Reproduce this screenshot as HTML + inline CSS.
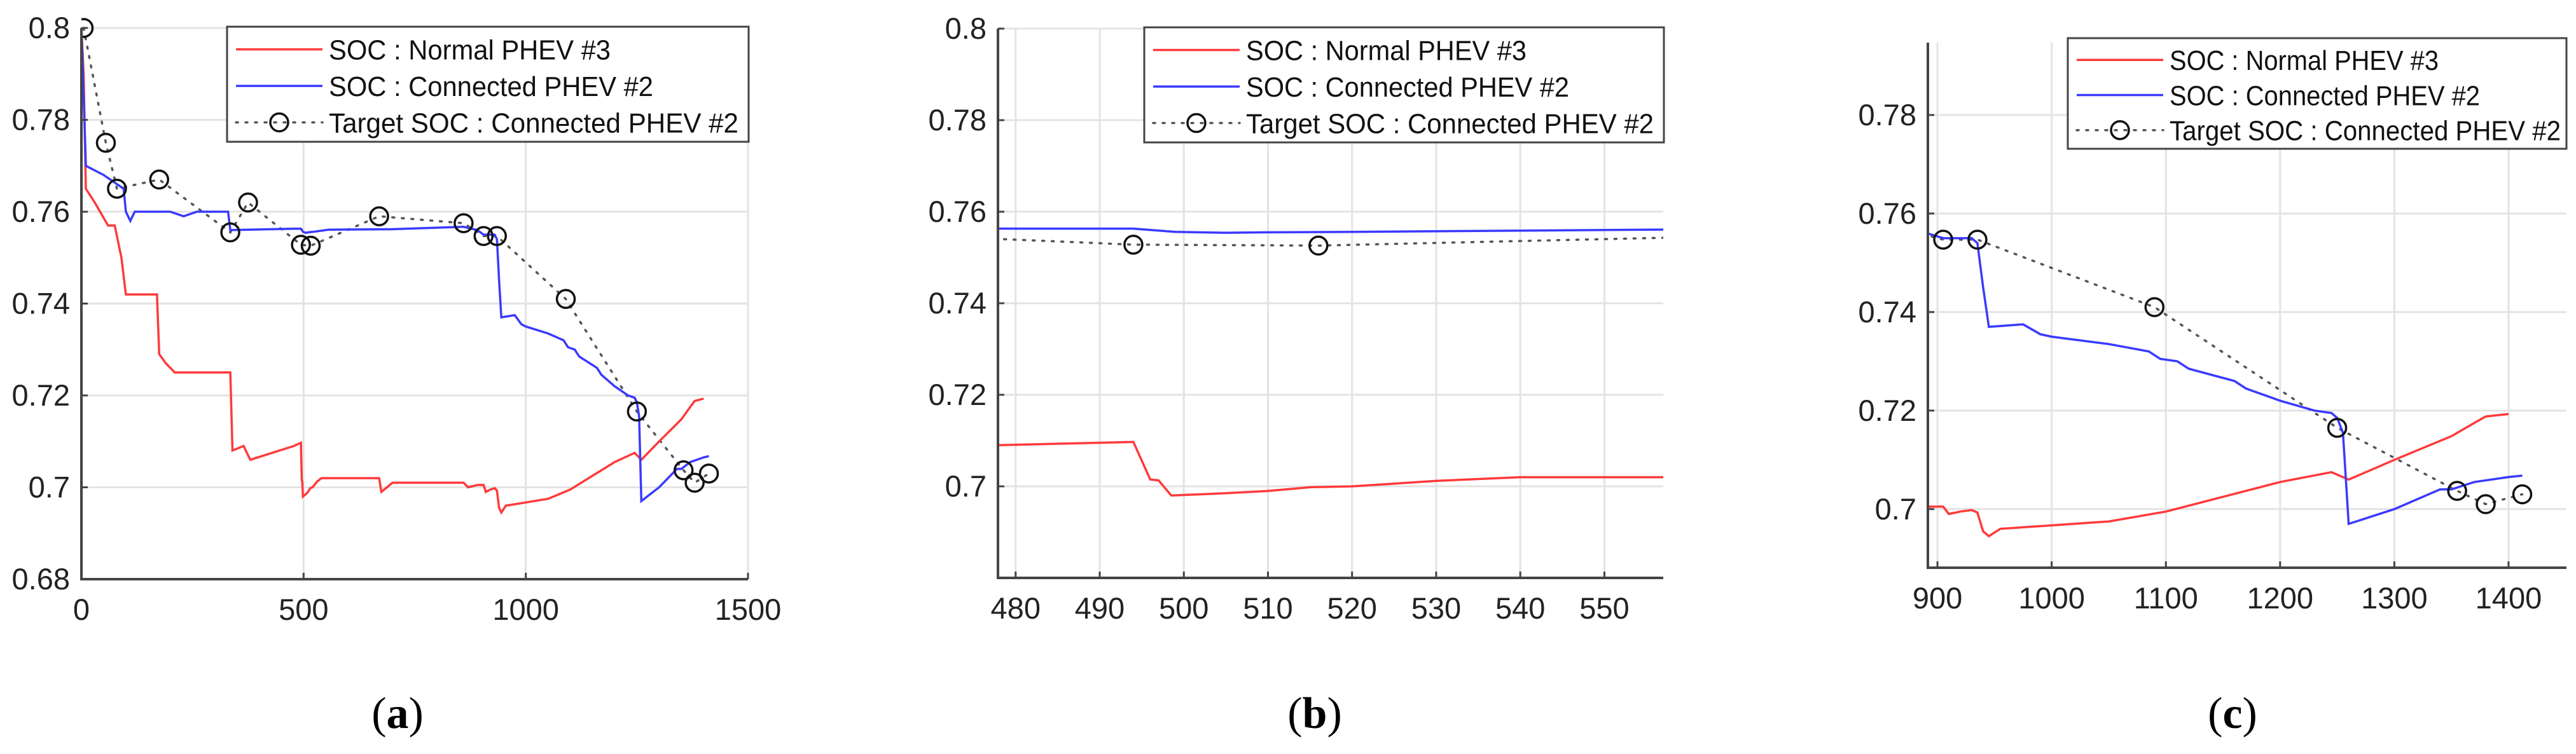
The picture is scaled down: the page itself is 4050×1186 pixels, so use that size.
<!DOCTYPE html>
<html><head><meta charset="utf-8"><style>
html,body{margin:0;padding:0;background:#fff;}
svg{display:block;font-family:"Liberation Sans",sans-serif;}
</style></head><body>
<svg id="fig" width="4050" height="1186" viewBox="0 0 4050 1186" xmlns="http://www.w3.org/2000/svg"></svg>
<script>
// ---- data (time [s], SOC) ----
const redX = [0,5,10,30,60,75,90,100,170,175,190,210,335,340,365,380,478,494,496,497,498.5,505,510,515,520,530,540,670,675,700,860,870,891,905,910,920,930,935,940,945,955,1000,1050,1100,1150,1200,1245,1250,1260,1300,1350,1370,1380,1400];
const redY = [0.80,0.79,0.765,0.762,0.757,0.757,0.75,0.742,0.742,0.729,0.727,0.725,0.725,0.708,0.709,0.706,0.709,0.7097,0.7015,0.7013,0.698,0.6985,0.699,0.6998,0.700,0.7012,0.702,0.702,0.699,0.701,0.701,0.700,0.7005,0.7005,0.699,0.6995,0.6998,0.6993,0.6955,0.6945,0.696,0.6967,0.6975,0.6995,0.7025,0.7055,0.7075,0.707,0.706,0.710,0.7148,0.7175,0.7188,0.7193];
const blueX = [0,10,50,80,95,100,110,120,200,230,260,330,335,478,494,499,505,510,520,557,700,860,891,905,930,935,940,945,975,990,1000,1050,1085,1095,1110,1120,1160,1170,1200,1230,1245,1250,1255,1260,1280,1300,1340,1350,1370,1400,1412];
const blueY = [0.80,0.770,0.768,0.766,0.765,0.760,0.758,0.760,0.760,0.759,0.760,0.760,0.756,0.7563,0.7563,0.7556,0.7554,0.7555,0.7556,0.7561,0.7562,0.7567,0.756,0.755,0.755,0.754,0.745,0.737,0.7375,0.7355,0.735,0.7335,0.732,0.7305,0.730,0.7285,0.726,0.7245,0.722,0.720,0.7195,0.7185,0.7155,0.697,0.6985,0.700,0.704,0.704,0.7055,0.7065,0.7068];
const targetX = [5,55,80,175,335,375,494,516,670,860,905,935,1090,1250,1355,1380,1412];
const targetY = [0.800,0.775,0.765,0.767,0.7555,0.762,0.7528,0.7526,0.759,0.7575,0.7547,0.7547,0.741,0.7165,0.7037,0.701,0.703];
const legendLabels = ["SOC : Normal PHEV #3","SOC : Connected PHEV #2","Target SOC : Connected PHEV #2"];
const aXTicks = [0,500,1000,1500];
const aYTicks = [0.68,0.7,0.72,0.74,0.76,0.78,0.8];
const aYLabels = ["0.68","0.7","0.72","0.74","0.76","0.78","0.8"];
const bXTicks = [480,490,500,510,520,530,540,550];
const bYTicks = [0.7,0.72,0.74,0.76,0.78,0.8];
const bYLabels = ["0.7","0.72","0.74","0.76","0.78","0.8"];
const cXTicks = [900,1000,1100,1200,1300,1400];
const cYTicks = [0.7,0.72,0.74,0.76,0.78];
const cYLabels = ["0.7","0.72","0.74","0.76","0.78"];

const NS = "http://www.w3.org/2000/svg";
const fig = document.getElementById("fig");
function mk(tag, attrs, parent){
  const e = document.createElementNS(NS, tag);
  for (const k in attrs) e.setAttribute(k, attrs[k]);
  (parent||fig).appendChild(e); return e;
}
const RED = "#ff3a3a", BLUE = "#3a3aff";
const legFrac = [0.54, 0.622, 0.785];

function panel(id, box, xlim, ylim, xt, yt, ylab, leg, letter, letterX){
  const g = mk("g", {});
  
  
  const sx = v => box.l + (v - xlim[0]) / (xlim[1] - xlim[0]) * (box.r - box.l);
  const sy = v => box.b - (v - ylim[0]) / (ylim[1] - ylim[0]) * (box.b - box.t);
  const cid = "clip-" + id;
  const cp = mk("clipPath", {id: cid}, g);
  mk("rect", {x: box.l, y: box.t - 20, width: box.r - box.l, height: box.b - box.t + 20}, cp);
  xt.forEach(v => { const x = sx(v);
    const l = mk("line", {x1:x, x2:x, y1:box.t, y2:box.b, stroke:"#e3e3e3", "stroke-width":3}, g);
    
    
  });
  yt.forEach(v => { const y = sy(v);
    const l = mk("line", {x1:box.l, x2:box.r, y1:y, y2:y, stroke:"#e3e3e3", "stroke-width":3}, g);
    
    
  });
  const dg = mk("g", {"clip-path": "url(#" + cid + ")"}, g);
  function path(xs, ys, attrs, name){
    let d = "";
    xs.forEach((v, i) => { d += (i ? "L" : "M") + sx(v).toFixed(1) + "," + sy(ys[i]).toFixed(1); });
    const p = mk("path", Object.assign({d: d, fill: "none"}, attrs), dg);
    
    
  }
  path(targetX, targetY, {stroke:"#555", "stroke-width":3.5, "stroke-dasharray":"3 12", "stroke-linecap":"round"}, 'target-soc-line');
  path(redX, redY, {stroke:RED, "stroke-width":3.5}, 'normal-phev3-soc-line');
  path(blueX, blueY, {stroke:BLUE, "stroke-width":3.5}, 'connected-phev2-soc-line');
  targetX.forEach((v, i) => {
    const c = mk("circle", {cx: sx(v), cy: sy(targetY[i]), r: 14, fill: "none", stroke: "#111", "stroke-width": 3.5}, dg);
    
    
  });
  const ax = mk("path", {d: `M${box.l},${box.t}V${box.b}H${box.r}`, stroke:"#444", "stroke-width":4, fill:"none"}, g);
  
  
  xt.forEach(v => { const x = sx(v);
    mk("line", {x1:x, x2:x, y1:box.b, y2:box.b - 10, stroke:"#444", "stroke-width":3}, g);
    const t = mk("text", {x: x, y: box.b + 64, "font-size": 47, fill: "#222", "text-anchor": "middle"}, g);
    t.textContent = String(v);
    
    
  });
  yt.forEach((v, i) => { const y = sy(v);
    mk("line", {x1:box.l, x2:box.l + 10, y1:y, y2:y, stroke:"#444", "stroke-width":3}, g);
    const t = mk("text", {x: box.l - 18, y: y + 16, "font-size": 47, fill: "#222", "text-anchor": "end"}, g);
    t.textContent = ylab[i];
    
    
  });
  const lg = mk("g", {}, g);
  
  
  mk("rect", {x: leg.x, y: leg.y, width: leg.w, height: leg.h, fill: "#fff", stroke: "#444", "stroke-width": 3}, lg);
  const rh = leg.h / 3.15;
  const styles = [{stroke:RED}, {stroke:BLUE}, {stroke:"#555", "stroke-dasharray":"3 12", "stroke-linecap":"round"}];
  legendLabels.forEach((s, i) => {
    const y = leg.y + rh * (i + 0.62);
    const e = mk("g", {}, lg);
    
    
    mk("line", Object.assign({x1: leg.x + 14, x2: leg.x + 150, y1: y, y2: y, "stroke-width": 3.5}, styles[i]), e);
    if (i === 2) mk("circle", {cx: leg.x + 82, cy: y, r: 14, fill: "none", stroke: "#111", "stroke-width": 3.5}, e);
    const t = mk("text", {x: leg.x + 160, y: y + 16, "font-size": 44, fill: "#111", textLength: (legFrac[i] * leg.w).toFixed(0), lengthAdjust: "spacingAndGlyphs"}, e);
    t.textContent = s;
  });
  const L = mk("text", {x: letterX, y: 1145, "font-size": 70, "text-anchor": "middle", "font-family": "Liberation Serif, serif", fill: "#000"}, g);
  
  
  L.innerHTML = '(<tspan font-weight="bold">' + letter + '</tspan>)';
}

panel("a", {l:128, r:1176, t:44, b:911}, [0,1500], [0.68,0.8], aXTicks, aYTicks, aYLabels, {x:357, y:42, w:820, h:181}, "a", 625);
panel("b", {l:1569, r:2615, t:45, b:909}, [477.9,557], [0.68,0.8], bXTicks, bYTicks, bYLabels, {x:1799, y:43, w:817, h:181}, "b", 2067);
panel("c", {l:3031, r:4035, t:67, b:893}, [891.6,1450.7], [0.6881,0.7947], cXTicks, cYTicks, cYLabels, {x:3251, y:60, w:784, h:174}, "c", 3510);
</script>
</body></html>
